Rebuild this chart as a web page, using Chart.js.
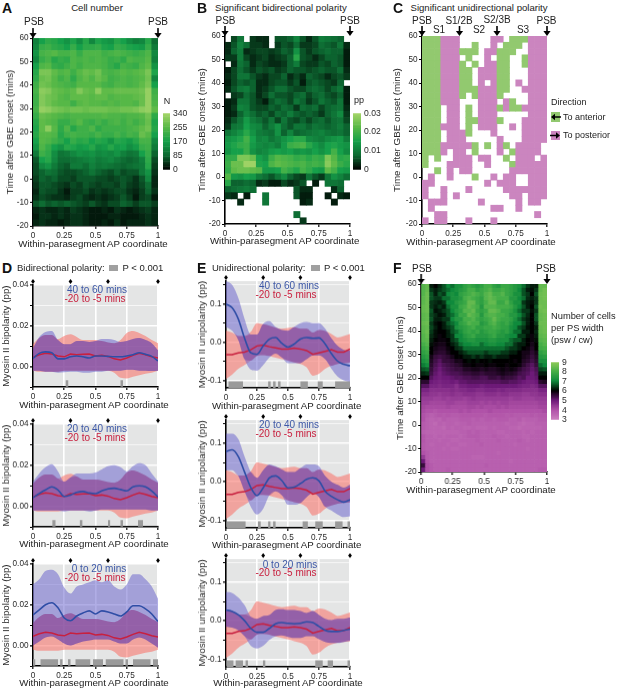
<!DOCTYPE html>
<html><head><meta charset="utf-8">
<style>
html,body{margin:0;padding:0;background:#fff;width:617px;height:689px;overflow:hidden}
#stage{position:relative;width:617px;height:689px;font-family:"Liberation Sans",Arial,sans-serif;color:#222}
canvas{position:absolute}
.t{position:absolute;white-space:nowrap;line-height:1}
</style>
<script src="https://cdn.jsdelivr.net/npm/chart.js@4"></script>
</head><body><div id="stage"></div>
<script>
const _=null;
const apTicks=[0,0.25,0.5,0.75,1];
const timeTicks=[60,50,40,30,20,10,0,-10,-20];
const timeRange=[-20,60];
const segmentMarks=[0,0.3,0.6,1];
const psbMarks=[0,1];
const boundaryMarks=[0,0.3,0.6,1];

// Panel A: cell number N
const cellNumber=[
[120,170,200,190,170,150,180,140,190,130,180,160,150,190,170,140,120,130,190,90],
[130,210,220,200,190,170,210,170,200,200,210,180,170,210,200,180,170,160,210,110],
[150,230,240,250,230,230,240,210,240,240,240,220,230,240,230,220,210,220,240,130],
[130,210,230,190,210,200,240,230,240,230,240,230,210,220,200,240,230,230,250,120],
[170,240,250,210,200,220,240,220,240,240,240,230,210,190,230,220,210,240,260,150],
[190,290,290,260,240,250,220,250,270,260,280,240,230,240,250,240,250,260,290,180],
[200,270,280,250,220,240,200,240,260,240,270,250,220,230,240,230,240,250,280,130],
[220,280,270,250,240,230,220,250,250,250,250,230,220,240,240,230,240,260,290,170],
[230,310,300,270,260,250,260,300,270,260,310,260,260,270,270,270,270,280,320,220],
[220,300,280,270,250,240,260,260,260,250,260,260,240,250,250,250,260,270,320,230],
[220,300,280,260,250,250,220,250,260,250,250,240,250,240,250,250,240,270,320,240],
[230,320,310,290,280,270,280,280,270,280,280,280,270,270,280,280,290,310,320,260],
[210,270,260,250,240,230,240,240,240,240,240,250,240,240,230,240,240,250,280,200],
[190,260,250,240,210,210,230,250,220,210,230,210,230,240,220,240,220,240,270,180],
[180,260,310,250,200,240,190,220,220,240,200,220,220,220,220,230,240,260,280,190],
[190,250,250,240,190,220,230,220,220,210,230,210,210,230,210,230,220,270,250,170],
[170,250,240,220,200,170,210,190,200,170,190,180,150,190,180,160,190,230,230,130],
[150,240,210,170,150,190,180,160,170,190,150,160,190,160,170,140,160,210,220,110],
[110,220,200,140,100,110,130,150,140,150,130,140,130,150,120,100,110,170,210,80],
[70,170,190,130,90,90,100,110,120,130,110,120,130,110,90,80,90,120,200,60],
[60,130,150,110,80,70,110,110,90,120,100,110,100,90,80,90,100,110,190,50],
[60,80,100,90,70,60,60,70,80,100,80,70,60,80,60,70,70,110,150,40],
[50,80,70,80,60,60,50,70,70,70,60,60,50,60,70,60,40,70,130,30],
[40,70,70,60,50,40,60,50,70,60,50,60,60,50,70,50,40,60,90,30],
[30,70,60,60,40,20,50,50,60,40,50,40,50,60,60,40,30,50,80,40],
[40,60,50,40,40,30,50,60,40,30,40,30,40,50,70,50,20,50,60,20],
[70,90,70,80,70,80,70,60,50,70,50,40,60,60,80,70,50,70,70,50],
[30,40,30,30,40,30,50,40,30,20,20,30,20,40,30,20,30,40,50,30],
[20,40,40,30,40,30,40,40,30,20,20,20,30,30,20,20,20,30,40,30],
[30,40,30,30,20,30,40,40,30,20,20,30,20,40,20,30,30,30,40,30]];

// Panel B: significant bidirectional polarity, in thousandths of pp
const bidirectionalMilliPP=[
[_,5,9,_,4,3,3,_,6,6,7,11,6,3,6,10,9,8,7,_],
[3,6,11,8,4,4,3,_,4,6,5,8,4,4,5,8,7,6,9,3],
[3,7,10,3,4,5,5,4,5,7,6,13,6,4,6,7,8,7,7,2],
[4,4,10,5,3,4,5,3,4,5,7,17,6,5,3,5,7,7,6,2],
[_,3,9,7,3,5,4,3,3,4,7,10,5,4,4,6,5,7,6,2],
[2,5,8,6,4,6,5,6,4,5,7,6,6,5,6,7,6,6,8,3],
[3,5,9,9,6,4,3,5,5,7,3,5,3,7,6,5,3,5,6,4],
[2,5,7,6,7,3,3,5,6,6,4,6,2,6,7,6,5,4,7,_],
[3,6,9,10,7,3,4,6,8,8,6,5,5,7,8,7,5,7,9,2],
[_,4,5,8,6,3,5,8,6,6,5,7,8,5,7,8,6,5,7,2],
[2,3,9,9,6,4,2,6,8,7,5,9,7,4,6,9,7,6,9,2],
[2,4,11,10,6,5,5,7,6,8,7,4,8,7,8,5,7,8,9,3],
[2,3,7,11,8,6,7,5,8,7,10,7,6,7,6,4,7,9,12,4],
[3,6,9,14,10,8,6,9,5,9,6,5,7,5,7,8,6,8,9,5],
[4,9,10,15,12,11,7,10,13,8,6,9,9,7,9,8,7,8,10,7],
[9,11,13,17,13,10,9,8,13,7,11,7,8,9,10,11,9,8,9,7],
[13,14,16,20,15,11,12,9,11,13,15,17,17,12,11,10,12,13,14,10],
[14,16,18,19,14,12,11,12,10,14,19,20,21,17,14,12,15,16,14,13],
[13,15,15,19,13,11,12,14,15,14,15,13,14,13,15,13,15,20,15,12],
[18,18,26,26,24,15,13,19,22,21,20,18,19,17,19,18,26,22,17,18],
[19,24,24,29,29,16,15,21,23,22,21,20,21,19,20,19,27,23,19,17],
[18,23,24,24,23,22,14,14,15,20,18,16,20,18,15,14,23,20,15,14],
[22,14,13,15,14,10,8,6,9,12,7,5,4,9,6,4,9,13,11,8],
[17,7,7,8,7,3,4,2,2,5,3,4,6,_,2,_,9,9,8,_],
[7,8,9,10,8,_,_,_,_,_,_,6,3,3,_,_,_,3,7,_],
[4,3,_,2,_,_,9,_,_,_,_,6,2,2,_,_,2,_,3,2],
[_,_,3,_,_,_,9,_,_,_,_,_,2,3,_,_,_,2,_,_],
[_,_,_,_,_,_,_,_,_,_,_,_,_,_,_,_,_,_,_,_],
[_,_,_,_,_,_,_,_,_,_,_,8,_,_,_,_,_,_,_,_],
[_,_,_,_,_,_,_,_,_,_,_,_,4,_,_,_,_,_,_,_]];

// Panel C: direction per cell, 0 none, 1 to anterior, 2 to posterior
const directionRows=[
"11122200000220111222",
"11122200100201110222",
"11122211102211100222",
"11122201002011001222",
"11122210102211001222",
"11122211022211000222",
"11122211022211000222",
"11122211020211020222",
"11122211122211002222",
"11122210122210000222",
"11122200022202100222",
"11102201022212112222",
"11102201022200000222",
"11102201122210002222",
"11122201022200202222",
"11102221000200002222",
"11102220000020002222",
"11122222101021022220",
"11120220100020122220",
"10100222022001022202",
"10002222002000122222",
"00102022000000222222",
"02002000100202200222",
"22000000002022200222",
"20020002000002222222",
"20020200000000220222",
"02220000020000020220",
"02000000000220020000",
"00220000000000000020",
"20220002000200000000"];

// Panel F: cells per PS width, in tenths
const cellsPerWidthTenths=[
[82,84,62,60,63,66,70,68,72,72,76,78,76,74,76,80,80,76,74,78,78,76,74,72,68,64,62,62,84,84],
[82,84,64,62,64,66,68,70,72,74,76,80,80,76,78,80,82,78,78,80,78,76,74,70,66,62,61,64,84,86],
[82,85,66,62,66,64,70,72,70,76,78,80,82,80,78,82,84,80,80,82,78,76,72,72,66,64,60,66,85,86],
[83,85,66,64,64,68,68,72,72,74,80,82,80,78,76,82,84,82,80,80,80,74,74,70,68,63,62,64,85,86],
[83,85,64,63,62,64,70,70,74,76,78,84,84,78,76,80,84,84,78,78,82,76,72,72,64,62,61,64,85,85],
[84,85,64,62,64,62,68,72,72,78,80,84,82,80,74,82,82,82,80,80,80,78,74,70,66,62,60,66,86,85],
[84,85,66,61,62,64,66,70,74,76,82,82,84,78,76,78,84,84,82,78,78,76,72,68,64,64,61,64,85,86],
[83,84,65,63,61,62,66,68,72,78,78,84,82,80,74,80,82,82,80,80,78,74,74,70,66,63,60,66,84,85],
[83,84,66,62,62,64,64,70,74,74,80,80,82,78,76,78,80,84,80,78,78,76,72,68,64,62,60,66,84,85],
[84,85,64,61,60,62,66,68,70,76,78,82,80,80,74,76,80,82,78,76,78,74,70,70,66,62,60,64,85,85],
[83,84,65,62,60,62,64,66,72,74,76,78,80,76,76,78,78,80,78,76,76,72,70,66,64,61,60,62,84,85],
[83,85,64,61,60,60,62,66,68,72,76,78,76,78,74,76,78,78,76,74,76,72,68,68,62,62,60,63,84,85],
[82,84,63,61,59,60,62,64,70,70,74,76,78,74,74,74,76,78,74,74,72,70,70,64,64,61,59,62,83,84],
[82,83,62,60,59,59,60,64,66,70,72,74,74,72,72,72,74,74,72,72,72,68,66,66,62,60,59,61,82,83],
[80,82,61,59,58,58,60,62,64,68,70,70,72,72,68,70,72,72,70,70,68,68,64,62,62,60,58,60,80,82],
[78,80,60,58,57,57,59,60,63,64,68,68,68,68,68,68,68,68,68,68,66,64,64,62,60,59,57,60,79,80],
[76,78,60,57,56,56,58,60,60,62,64,66,66,66,66,64,66,66,66,64,64,62,62,60,58,58,56,58,76,78],
[74,76,58,55,54,55,56,58,60,60,62,62,64,62,64,62,62,64,62,62,62,60,60,60,58,57,55,57,74,75],
[72,74,57,54,52,55,55,56,58,58,60,61,60,61,60,60,61,60,60,60,60,60,59,60,57,56,54,56,72,72],
[69,71,56,53,51,53,54,55,56,57,59,59,60,59,59,60,59,59,60,60,59,60,60,59,56,54,52,55,68,70],
[66,67,55,52,50,52,53,54,55,55,57,57,58,58,57,58,57,57,58,59,58,59,58,56,54,53,51,53,65,66],
[63,64,54,51,49,51,52,53,53,54,55,55,56,56,55,56,56,56,57,58,57,57,56,54,53,52,50,52,62,62],
[60,60,52,50,49,50,50,51,52,52,53,53,54,54,53,53,55,55,54,56,55,55,54,52,53,50,50,51,60,60],
[56,56,50,49,48,49,49,50,49,51,51,52,52,52,52,52,52,52,52,53,53,52,52,51,50,49,49,50,56,57],
[52,52,48,48,47,48,48,48,46,49,49,50,50,50,49,50,50,50,50,50,50,50,50,49,48,48,47,48,52,52],
[48,48,46,46,46,46,46,47,46,47,47,48,48,47,47,48,48,48,47,48,47,47,47,47,46,46,46,46,48,48],
[46,46,45,45,44,45,45,46,45,45,46,46,46,45,45,46,46,46,45,46,46,45,45,45,44,44,45,45,46,46],
[44,44,44,43,43,44,43,44,44,44,43,44,45,44,44,44,44,44,44,44,44,43,44,44,43,43,43,44,44,44],
[43,43,42,42,42,42,43,43,42,42,42,43,43,43,42,43,42,43,42,43,43,42,42,42,42,42,42,42,43,43],
[42,41,41,41,41,41,42,41,41,41,41,42,42,41,42,41,41,41,42,41,42,41,41,41,41,41,41,41,42,42],
[41,40,40,39,40,40,40,40,40,41,40,41,40,40,40,40,41,40,40,40,40,40,40,40,40,40,40,40,40,41],
[40,38,37,38,39,38,39,38,38,39,39,39,39,39,39,38,39,39,39,39,38,39,38,38,38,38,39,38,39,39],
[40,37,36,37,36,38,37,37,37,38,38,38,37,38,37,38,38,37,38,38,38,37,37,38,36,37,37,37,38,38],
[38,37,36,35,37,36,37,37,36,37,37,38,37,37,37,37,37,37,37,37,36,37,37,36,35,36,36,37,37,37],
[38,37,36,36,36,35,37,36,37,37,36,36,37,36,36,36,37,36,37,37,37,36,36,35,36,36,36,36,36,37],
[37,36,36,36,36,36,36,36,36,37,37,38,37,38,37,37,37,37,36,36,37,37,37,37,36,37,36,37,37,37],
[39,37,37,36,37,36,37,37,37,36,37,38,38,38,37,37,37,38,37,37,36,37,37,37,36,36,37,37,37,37],
[39,37,37,37,36,37,37,36,36,37,37,37,37,38,37,37,37,37,38,37,37,37,37,38,37,36,37,37,37,37],
[38,37,36,37,37,37,36,37,37,36,36,37,37,37,38,37,37,37,37,37,37,37,36,37,37,37,37,37,37,37],
[38,37,37,37,37,36,37,36,36,37,37,37,37,37,37,37,37,37,37,37,37,37,37,37,37,36,37,37,37,37],
[40,38,37,37,37,37,37,37,37,37,37,37,37,37,37,37,37,37,36,37,37,37,37,37,37,37,37,37,37,37],
[44,38,37,37,37,37,37,37,37,37,37,37,36,36,36,37,37,37,37,37,37,37,37,37,37,37,37,37,37,37],
[50,39,37,37,37,37,37,37,37,37,37,37,37,37,37,37,37,37,37,37,37,36,37,37,37,37,37,37,37,37],
[55,40,38,37,37,37,37,37,37,37,37,37,37,37,37,38,37,37,37,37,37,37,37,37,37,37,37,37,37,37],
[50,40,38,37,37,37,38,37,37,37,37,37,37,37,37,37,37,37,37,37,37,37,37,37,37,37,37,37,38,38]];

const apCoordinate=[0,.05,.1,.15,.2,.25,.3,.35,.4,.45,.5,.55,.6,.65,.7,.75,.8,.85,.9,.95,1];

// Panels D: bipolarity curves
const bipolarRefMean=[.0045,.0058,.0065,.0062,.0052,.0048,.0062,.0058,.006,.0062,.0052,.0055,.005,.0038,.0032,.0042,.0055,.0065,.0058,.0048,.0042];
const bipolarRefUpper=[.011,.014,.0155,.0155,.0135,.015,.0158,.0145,.013,.013,.013,.0125,.0118,.0115,.013,.0165,.0175,.0165,.015,.013,.0115];
const bipolarRefLower=[-.002,-.0025,-.0025,-.0025,-.0025,-.002,-.002,-.002,-.002,-.002,-.002,-.002,-.002,-.003,-.0055,-.0058,-.005,-.0042,-.0035,-.003,-.002];
const bipolar40Mean=[.004,.0065,.0072,.0068,.0038,.0038,.0048,.0052,.0048,.0042,.0052,.0052,.005,.0048,.0048,.0052,.0058,.0068,.006,.005,.0028];
const bipolar40Upper=[.009,.0145,.017,.0175,.013,.011,.011,.0125,.0125,.012,.0125,.0135,.0135,.013,.012,.0125,.0135,.014,.013,.0115,.008];
const bipolar40Lower=[-.002,-.002,-.0025,-.0025,-.003,-.0028,-.0025,-.0025,-.003,-.003,-.0025,-.0025,-.002,-.002,-.002,-.0015,-.0015,-.002,-.002,-.0022,-.002];
const bipolar20Mean=[.0042,.0062,.008,.0095,.008,.0048,.0055,.0068,.0072,.0065,.0062,.0075,.0085,.0088,.0082,.0075,.0095,.01,.0095,.0075,.0045];
const bipolar20Upper=[.012,.016,.019,.0205,.017,.012,.014,.016,.016,.016,.0165,.018,.0195,.02,.019,.017,.0195,.021,.02,.016,.012];
const bipolar20Lower=[-.002,-.002,-.002,-.002,-.002,-.0025,-.002,-.002,-.002,-.0025,-.002,-.0015,-.0015,-.0015,-.0015,-.0015,-.0015,-.0015,-.0015,-.002,-.002];
const bipolar0Mean=[.015,.0175,.02,.021,.0185,.0135,.0122,.0145,.016,.017,.0155,.017,.0165,.0155,.0145,.0165,.0195,.0195,.018,.0155,.0118];
const bipolar0Upper=[.03,.0325,.0366,.0372,.035,.0285,.0255,.029,.03,.031,.032,.031,.032,.029,.0275,.03,.035,.035,.0325,.029,.023];
const bipolar0Lower=[0,.002,.004,.0045,.003,.001,0,.001,.002,.0025,.003,.003,.003,.002,.001,.001,.003,.004,.003,.001,-.001];

// Panels E: unipolarity curves
const unipolarRefMean=[-.033,-.033,-.028,-.026,-.02,-.01,-.008,-.012,-.015,-.018,-.018,-.016,-.018,-.022,-.032,-.028,-.024,-.02,-.026,-.026,-.018];
const unipolarRefUpper=[.03,.025,.016,.016,.027,.05,.047,.043,.038,.035,.037,.039,.035,.035,.025,.032,.029,.021,.012,.016,.021];
const unipolarRefLower=[-.097,-.085,-.07,-.06,-.049,-.036,-.034,-.036,-.041,-.045,-.049,-.053,-.057,-.066,-.088,-.083,-.07,-.062,-.057,-.055,-.053];
const unipolar40Mean=[.1,.09,.06,.01,-.028,-.032,-.01,.008,.012,-.003,-.013,-.005,.008,.012,.01,.011,-.005,-.03,-.05,-.058,-.062];
const unipolar40Upper=[.16,.15,.115,.06,.02,.02,.048,.055,.04,.032,.03,.04,.05,.053,.05,.05,.035,.01,-.01,-.02,-.022];
const unipolar40Lower=[.04,.03,.005,-.045,-.072,-.075,-.06,-.04,-.03,-.04,-.055,-.055,-.055,-.045,-.035,-.035,-.045,-.07,-.09,-.1,-.105];
const unipolar20Mean=[.078,.083,.065,.025,-.015,-.036,-.016,.01,.015,.003,-.016,-.014,-.005,.006,.01,.002,-.025,-.038,-.047,-.053,-.047];
const unipolar20Upper=[.125,.125,.11,.065,.025,.01,.03,.045,.04,.032,.025,.025,.035,.045,.045,.04,.015,0,-.008,-.015,-.008];
const unipolar20Lower=[.03,.03,.015,-.025,-.065,-.085,-.07,-.035,-.025,-.035,-.06,-.06,-.055,-.04,-.03,-.04,-.065,-.075,-.085,-.092,-.09];
const unipolar0Mean=[.028,.024,.015,0,-.02,-.03,-.03,-.02,-.008,-.005,-.007,-.008,-.007,-.003,-.005,-.015,-.025,-.028,-.028,-.025,-.022];
const unipolar0Upper=[.075,.072,.06,.04,.01,.005,.012,.015,.028,.03,.028,.028,.025,.02,.025,.015,.005,.002,.005,.005,.008];
const unipolar0Lower=[-.015,-.018,-.025,-.04,-.065,-.072,-.065,-.05,-.04,-.038,-.042,-.045,-.045,-.04,-.04,-.048,-.055,-.058,-.058,-.055,-.052];

// Significant intervals P<0.001
const sigD1=[[.262,.282],[.70,.72]];
const sigD2=[[.155,.18],[.375,.395],[.6,.617],[.70,.72],[.84,.88]];
const sigD3=[[0,.018],[.06,.2],[.217,.236],[.28,.3],[.34,.458],[.48,.56],[.582,.724],[.74,.76],[.80,.94],[.96,1]];
const sigE1=[[.02,.137],[.34,.36],[.38,.40],[.42,.44],[.6,.66],[.74,.78],[.88,1]];
const sigE2=[[.005,.158],[.258,.28],[.34,.358],[.38,.40],[.618,.66],[.72,.78],[.88,.94],[.98,1]];
const sigE3=[[.005,.06],[.078,.137],[.158,.177],[.298,.317],[.72,.78],[.82,.863],[.98,1]];

const bipolarTicks=[.04,.03,.02,.01,0,-.01];
const bipolarLabelled=[.04,.02,0];
const unipolarTicks=[.15,.1,.05,0,-.05,-.1];
const unipolarLabelled=[.1,0,-.1];

/* ---------- styling & helpers ---------- */
const stage=document.getElementById('stage');
const FONT='"Liberation Sans",Arial,sans-serif';
Chart.defaults.font.family=FONT;
Chart.defaults.animation=false;
Chart.defaults.responsive=false;
Chart.defaults.plugins.legend.display=false;
Chart.defaults.plugins.tooltip.enabled=false;
const TICKC='#2a2a2a',TICKFONT={size:8.2,family:FONT},TITLEFONT={size:9.8,family:FONT};

function ramp(stops){return v=>{
  if(v<=stops[0][0])return `rgb(${stops[0][1]})`;
  for(let i=1;i<stops.length;i++){if(v<=stops[i][0]){
    const a=stops[i-1],b=stops[i],f=(v-a[0])/(b[0]-a[0]);
    return `rgb(${a[1].map((c,k)=>Math.round(c+(b[1][k]-c)*f)).join(',')})`;}}
  return `rgb(${stops[stops.length-1][1]})`;};}
const greenN=ramp([[0,[0,0,0]],[85,[13,106,50]],[170,[22,160,74]],[255,[90,185,71]],[340,[168,214,106]]]);
const greenPP=ramp([[0,[0,0,0]],[7.5,[13,106,50]],[15,[22,160,74]],[22.5,[90,185,71]],[30,[168,214,106]]]);
const directionColours={1:'#92c96f',2:'#cb85bf'};
const pinkGreen=ramp([[30,[203,128,190]],[40,[176,82,168]],[50,[109,26,120]],[60,[0,0,0]],[70,[15,138,60]],[80,[69,174,72]],[90,[146,204,90]]]);

const directionGrid=directionRows.map(s=>s.split('').map(Number));
function cells(rows){const out=[],nR=rows.length,nC=rows[0].length,span=timeRange[1]-timeRange[0];
  rows.forEach((row,r)=>row.forEach((v,c)=>{if(v===null||(v===0&&rows===directionGrid))return;
    out.push({x:(c+.5)/nC,y:[timeRange[1]-(r+1)*span/nR,timeRange[1]-r*span/nR],v});}));
  return out;}

const markPlugin={id:'marks',afterDraw(ch,a,o){
  const ctx=ch.ctx,sx=ch.scales.x,top=ch.chartArea.top;ctx.save();ctx.fillStyle='#000';ctx.strokeStyle='#000';
  (o.arrows||[]).forEach(v=>{const x=sx.getPixelForValue(v);
    ctx.lineWidth=1.6;ctx.beginPath();ctx.moveTo(x,top-10);ctx.lineTo(x,top-4);ctx.stroke();
    ctx.beginPath();ctx.moveTo(x-3.6,top-5);ctx.lineTo(x+3.6,top-5);ctx.lineTo(x,top);ctx.closePath();ctx.fill();});
  (o.diamonds||[]).forEach(v=>{const x=sx.getPixelForValue(v),y=top-3.5;
    ctx.beginPath();ctx.moveTo(x,y-2.6);ctx.lineTo(x+1.9,y);ctx.lineTo(x,y+2.6);ctx.lineTo(x-1.9,y);ctx.closePath();ctx.fill();});
  ctx.restore();}};
const panelBg={id:'panelBg',beforeDraw(ch,a,o){if(!o.color)return;const r=ch.chartArea,c=ch.ctx;c.save();c.fillStyle=o.color;
  c.fillRect(r.left,r.top,r.width,r.height);c.restore();}};
Chart.register(markPlugin,panelBg);

function makeCanvas(b){const c=document.createElement('canvas');
  const left=b.x0-b.ml,top=b.y0-b.mt,w=b.ml+(b.x1-b.x0)+b.mr,h=b.mt+(b.y1-b.y0)+b.mb;
  c.width=w;c.height=h;c.style.left=left+'px';c.style.top=top+'px';c.style.width=w+'px';c.style.height=h+'px';
  stage.appendChild(c);return c;}
function layoutOf(b){return{autoPadding:false,padding:{top:b.mt,right:b.mr,left:0,bottom:0}};}

function axisX(b,gridOn){return{type:'linear',min:0,max:1,offset:false,
  afterBuildTicks:s=>{s.ticks=apTicks.map(v=>({value:v}));},afterFit:s=>{s.height=b.mb;},
  ticks:{autoSkip:false,maxRotation:0,minRotation:0,padding:1.5,color:TICKC,font:TICKFONT,callback:v=>String(v)},
  border:{color:'#000',width:1.6},
  grid:{offset:false,drawOnChartArea:!!gridOn,color:'#fff',lineWidth:1.6,drawTicks:true,tickLength:3,tickColor:'#000',tickWidth:1.2}};}
function axisY(b,o){return{type:'linear',min:o.min,max:o.max,
  afterBuildTicks:s=>{s.ticks=o.ticks.map(v=>({value:v}));},afterFit:s=>{s.width=b.ml;},
  ticks:{autoSkip:false,padding:1.5,color:TICKC,font:TICKFONT,callback:o.fmt},
  border:{color:'#000',width:1.6},
  grid:{drawOnChartArea:!!o.grid,color:'#fff',lineWidth:c=>(o.major&&o.major.includes(c.tick.value))?1.6:.7,
    drawTicks:true,tickLength:3,tickColor:'#000',tickWidth:1.2},
  title:{display:true,text:o.title,font:TITLEFONT,color:TICKC,padding:{top:o.titlePad||0,bottom:0}}};}

function heatChart(b,data,colour,arrows,titlePad){
  new Chart(makeCanvas(b),{type:'bar',
    data:{datasets:[{data,grouped:false,barPercentage:1,categoryPercentage:1,borderWidth:0,
      backgroundColor:c=>c.raw?colour(c.raw.v):'#000'}]},
    options:{layout:layoutOf(b),scales:{x:axisX(b),y:axisY(b,{min:timeRange[0],max:timeRange[1],ticks:timeTicks,titlePad,
      title:'Time after GBE onset (mins)',fmt:v=>String(v)})},
      plugins:{marks:{arrows}}}});}

function colorBar(b,min,max,steps,colour,tickVals,fmt){
  const sets=[];for(let i=0;i<steps;i++){const a=min+(max-min)*i/steps,e=min+(max-min)*(i+1)/steps;
    sets.push({data:[[a,e]],backgroundColor:colour((a+e)/2),grouped:false,barPercentage:1,categoryPercentage:1,borderWidth:0});}
  new Chart(makeCanvas(b),{type:'bar',data:{labels:[''],datasets:sets},
    options:{layout:{autoPadding:false,padding:{top:b.mt,left:0,right:0,bottom:b.mb}},scales:{
      x:{type:'category',display:false},
      y:{position:'right',min,max,afterBuildTicks:s=>{s.ticks=tickVals.map(v=>({value:v}));},afterFit:s=>{s.width=b.mr;},
        border:{display:false},grid:{display:false,drawTicks:false},
        ticks:{autoSkip:false,padding:3,color:TICKC,font:{size:8.6,family:FONT},callback:fmt}}}}});}

const BLUE='rgba(98,92,204,.5)',RED='rgba(250,110,100,.55)',OVER='rgba(107,31,139,.32)';
function lineChart(b,o){
  const pts=a=>apCoordinate.map((x,i)=>({x,y:a[i]}));
  const hiO=apCoordinate.map((x,i)=>Math.max(Math.min(o.refU[i],o.u[i]),Math.max(o.refL[i],o.l[i])));
  const loO=apCoordinate.map((x,i)=>Math.max(o.refL[i],o.l[i]));
  const band=(a,fill,col,order)=>({data:pts(a),borderWidth:0,pointRadius:0,order,cubicInterpolationMode:'monotone',
    fill:fill===null?false:{target:fill},backgroundColor:col});
  const sigPts=[];o.sig.forEach(iv=>{sigPts.push({x:iv[0],y:o.sigY},{x:iv[1],y:o.sigY},{x:iv[1],y:null});});
  new Chart(makeCanvas(b),{type:'line',data:{datasets:[
    band(o.refL,null,RED,20),band(o.refU,0,RED,20),
    band(o.l,null,BLUE,19),band(o.u,2,BLUE,19),
    band(loO,null,OVER,18),band(hiO,4,OVER,18),
    {data:pts(o.refM),borderColor:'#c8203f',borderWidth:1.5,pointRadius:0,order:3},
    {data:pts(o.m),borderColor:'#2f4ea6',borderWidth:1.6,pointRadius:0,order:2,cubicInterpolationMode:'monotone'},
    {data:sigPts,borderColor:'#9a9a9a',borderWidth:o.sigW,pointRadius:0,order:1,spanGaps:false,borderCapStyle:'butt'}
  ]},options:{layout:layoutOf(b),scales:{x:axisX(b,true),y:axisY(b,{min:o.min,max:o.max,ticks:o.ticks,title:o.title,grid:true,major:o.labelled,
      fmt:o.fmt})},plugins:{panelBg:{color:'#e4e5e5'},marks:{diamonds:segmentMarks}}}});}

/* ---------- heat maps ---------- */
heatChart({x0:33,x1:158,y0:38,y1:225.5,ml:33,mr:6,mt:12,mb:16},cells(cellNumber),greenN,psbMarks,4);
heatChart({x0:225,x1:350,y0:36,y1:224,ml:29,mr:6,mt:12,mb:16},cells(bidirectionalMilliPP),greenPP,psbMarks);
heatChart({x0:421.5,x1:546.5,y0:36,y1:224,ml:31,mr:6,mt:12,mb:16},cells(directionGrid),v=>directionColours[v],boundaryMarks);
heatChart({x0:421,x1:546.5,y0:284,y1:472,ml:27,mr:6,mt:12,mb:16},cells(cellsPerWidthTenths),pinkGreen,psbMarks);

colorBar({x0:163,x1:170,y0:111,y1:172,ml:0,mr:22,mt:6,mb:6},0,340,34,greenN,[0,85,170,255,340],v=>String(v));
colorBar({x0:353,x1:361,y0:111,y1:172,ml:0,mr:22,mt:6,mb:6},0,30,30,greenPP,[0,10,20,30],v=>v===0?'0':(v/1000).toFixed(2));
colorBar({x0:551,x1:559,y0:360,y1:422,ml:0,mr:14,mt:6,mb:6},30,90,48,pinkGreen,[30,40,50,60,70,80,90],v=>String(v/10));

/* ---------- curve panels ---------- */
const fmtBi=v=>bipolarLabelled.includes(v)?v.toFixed(2):'';
const fmtUni=v=>unipolarLabelled.includes(v)?v.toFixed(1):'';
[[285,387,bipolar40Mean,bipolar40Upper,bipolar40Lower,sigD1],
 [424,526.5,bipolar20Mean,bipolar20Upper,bipolar20Lower,sigD2],
 [564,666,bipolar0Mean,bipolar0Upper,bipolar0Lower,sigD3]].forEach(p=>{
  lineChart({x0:33,x1:158,y0:p[0],y1:p[1],ml:33,mr:6,mt:9,mb:16},{m:p[2],u:p[3],l:p[4],refM:bipolarRefMean,refU:bipolarRefUpper,refL:bipolarRefLower,
    sig:p[5],sigY:-.0083,sigW:6.5,min:-.01,max:.04,ticks:bipolarTicks,labelled:bipolarLabelled,title:'Myosin II bipolarity (pp)',fmt:fmtBi});});
[[281,387.5,unipolar40Mean,unipolar40Upper,unipolar40Lower,sigE1],
 [420,527.5,unipolar20Mean,unipolar20Upper,unipolar20Lower,sigE2],
 [559,666.5,unipolar0Mean,unipolar0Upper,unipolar0Lower,sigE3]].forEach(p=>{
  lineChart({x0:226,x1:350,y0:p[0],y1:p[1],ml:30,mr:6,mt:9,mb:16},{m:p[2],u:p[3],l:p[4],refM:unipolarRefMean,refU:unipolarRefUpper,refL:unipolarRefLower,
    sig:p[5],sigY:-.1115,sigW:6.5,min:-.12,max:.16,ticks:unipolarTicks,labelled:unipolarLabelled,title:'Myosin II unipolarity (pp)',fmt:fmtUni});});

/* ---------- text ---------- */
function T(text,x,y,o={}){const d=document.createElement('div');d.className='t';d.textContent=text;
  d.style.left=x+'px';d.style.top=y+'px';d.style.fontSize=(o.s||10)+'px';
  if(o.b)d.style.fontWeight='bold';if(o.c)d.style.color=o.c;
  d.style.transform=`translate(${o.a==='c'?'-50%':'0'},-50%)`;stage.appendChild(d);}
[['A',2,8],['B',197,8],['C',393,8],['D',2,268],['E',197,268],['F',393,268]].forEach(p=>T(p[0],p[1],p[2],{s:14,b:1,c:'#111'}));
T('Cell number',97,8,{a:'c',s:9.6});
T('Significant bidirectional polarity',215,8,{s:9.6});
T('Significant unidirectional polarity',410.5,8,{s:9.6});
[[34,22],[158,22],[225.5,21],[350,21],[422,21],[546.5,21],[422,269],[546,269]].forEach(p=>T('PSB',p[0],p[1],{a:'c'}));
[['S1',439,30],['S1/2B',459,21],['S2',479,30],['S2/3B',497,20],['S3',523,30]].forEach(p=>T(p[0],p[1],p[2],{a:'c'}));
[[93,244],[284.7,240.7],[481,242],[481,490],[94,405],[94,544.3],[94,683.3],[286.7,405.7],[286.7,544.7],[288,683.3]].forEach(p=>
  T('Within-parasegment AP coordinate',p[0],p[1],{a:'c',s:9.7}));
T('N',167,101,{a:'c',s:9});T('pp',359,100,{a:'c',s:9});
T('Direction',551,102,{s:9});T('To anterior',563,116.5,{s:9});T('To posterior',563,135,{s:9});
[['Number of cells',317],['per PS width',329],['(psw / cw)',341]].forEach(p=>T(p[0],551,p[1],{s:9.3}));
T('Bidirectional polarity:',17,268,{s:9.5});T('P < 0.001',122.5,268,{s:9.5});
T('Unidirectional polarity:',212,268,{s:9.5});T('P < 0.001',324,268,{s:9.5});
[[97,290,'40 to 60 mins',299],[97,429,'20 to 40 mins',438],[99,568.5,'0 to 20 mins',577.5]].forEach(p=>{
  T(p[2],p[0],p[1],{a:'c',c:'#3c57a6',s:10});T('-20 to -5 mins',95,p[3],{a:'c',c:'#c8203f',s:10});});
[[289,286,'40 to 60 mins',294.5],[289,425,'20 to 40 mins',433.5],[290,564.5,'0 to 20 mins',573]].forEach(p=>{
  T(p[2],p[0],p[1],{a:'c',c:'#3c57a6',s:10});T('-20 to -5 mins',286,p[3],{a:'c',c:'#c8203f',s:10});});
function sw(x,y,w,h,bg){const d=document.createElement('div');d.style.cssText=`position:absolute;left:${x}px;top:${y}px;width:${w}px;height:${h}px;background:${bg}`;stage.appendChild(d);return d;}
sw(109,265,9,6,'#a0a0a0');sw(310.5,265,9,6,'#a0a0a0');
const a1=sw(551,112,9,10,directionColours[1]);a1.innerHTML='<svg width="9" height="10" style="display:block;overflow:visible"><path d="M10 5H3" stroke="#000" stroke-width="1.5"/><path d="M0 5l4-3.2v6.4z"/></svg>';
const a2=sw(551,131,9,9,directionColours[2]);a2.innerHTML='<svg width="9" height="9" style="display:block;overflow:visible"><path d="M-1 4.5H6" stroke="#000" stroke-width="1.5"/><path d="M9 4.5l-4-3.2v6.4z"/></svg>';
</script></body></html>
